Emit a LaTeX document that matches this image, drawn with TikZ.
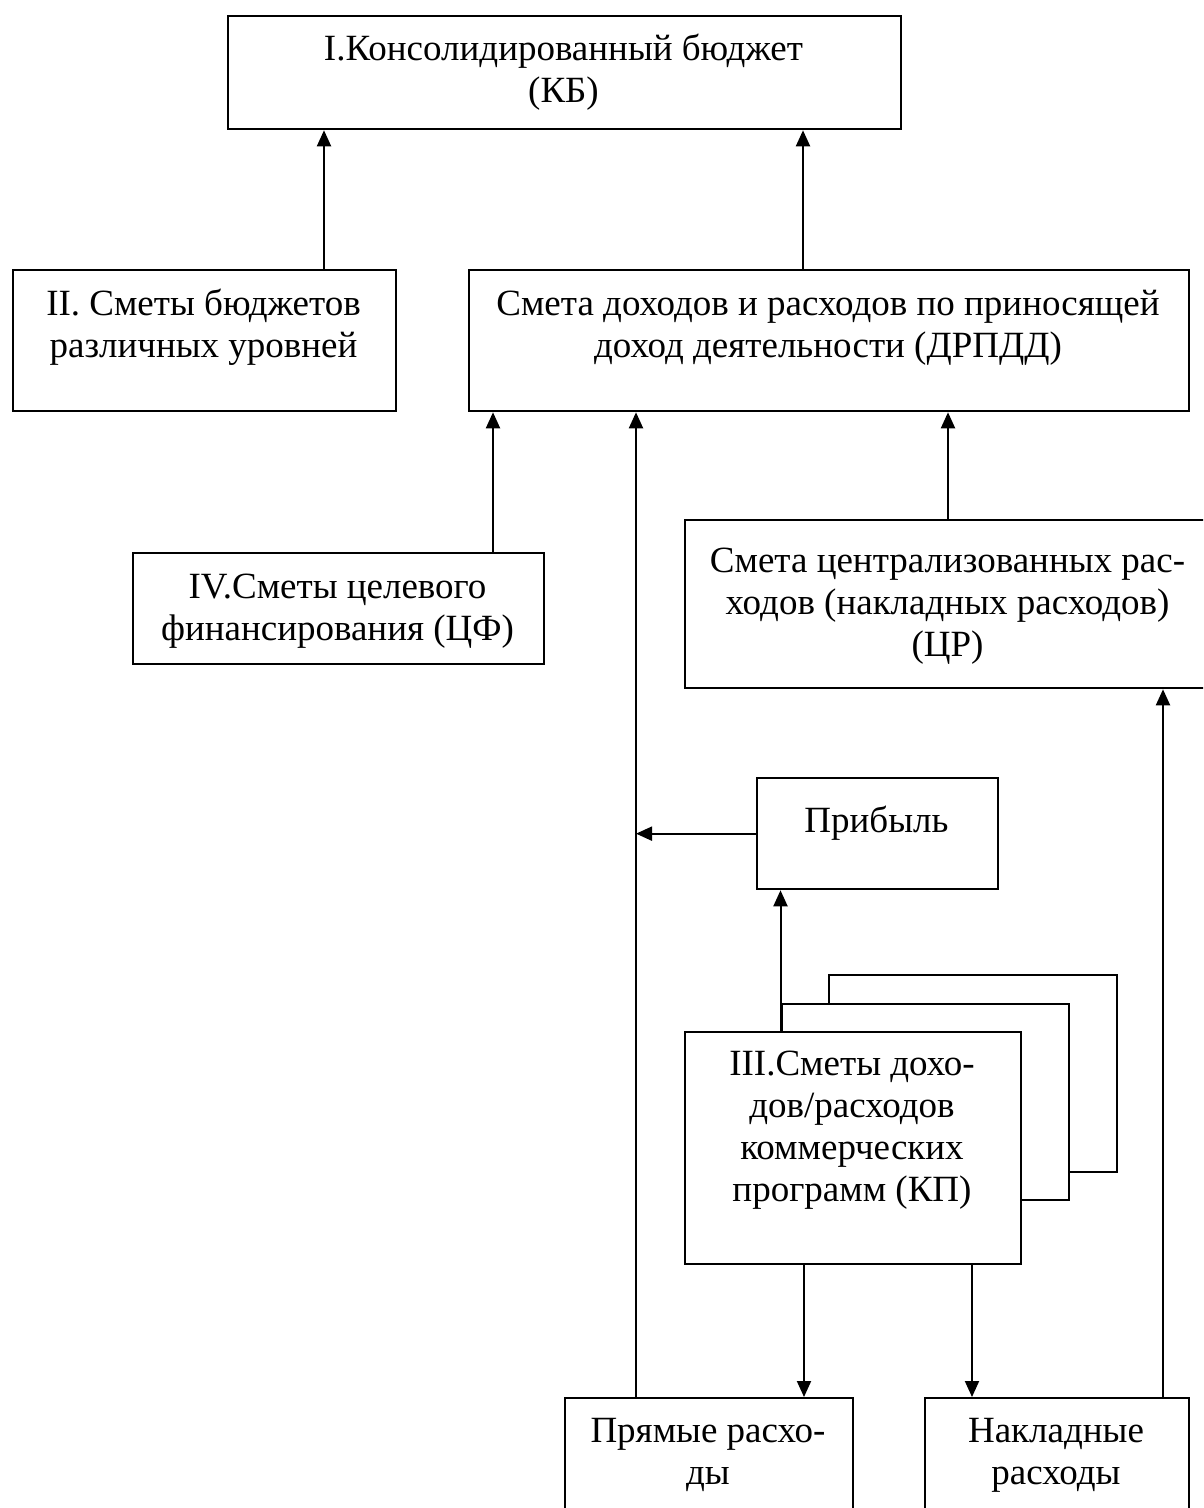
\documentclass[tikz,border=0pt]{standalone}
\usepackage{fontspec}
\setmainfont{Liberation Serif}
\usetikzlibrary{arrows.meta}
\tikzset{
  box/.style={draw, line width=2.3pt, fill=white, inner sep=0pt, anchor=north west},
  txt/.style={inner sep=0pt, anchor=north, align=center, yshift=29.4pt,
              font=\fontsize{37}{42}\selectfont},
  arr/.style={line width=2pt, -{Triangle[length=16pt,width=14pt]}},
}
\begin{document}
\begin{tikzpicture}[x=1pt,y=-1pt]
\useasboundingbox (0,0) rectangle (1203,1508);
\fill[white] (0,0) rectangle (1203,1508);
\clip (0,0) rectangle (1203,1508);

% boxes
\node[box, minimum width=673pt, minimum height=113pt] (KB) at (227,15) {};
\node[box, minimum width=383pt, minimum height=141pt] (SB) at (12,269) {};
\node[box, minimum width=720pt, minimum height=141pt] (DR) at (468,269) {};
\node[box, minimum width=411pt, minimum height=111pt] (CF) at (132,552) {};
\node[box, minimum width=528pt, minimum height=168pt] (CR) at (684,519) {};
\node[box, minimum width=241pt, minimum height=111pt] (PR) at (756,777) {};
\node[box, minimum width=288pt, minimum height=197pt] (KP3) at (828,974) {};
\node[box, minimum width=287.5pt, minimum height=196pt] (KP2) at (780.5,1003) {};
\node[box, minimum width=336.5pt, minimum height=232pt] (KP) at (683.5,1031) {};
\node[box, minimum width=288pt, minimum height=140pt] (PD) at (564,1397) {};
\node[box, minimum width=264pt, minimum height=140pt] (ND) at (924,1397) {};

% texts
\node[txt] (tKB) at (563.5,60) {\strut I.Консолидированный бюджет\\(КБ)};
\node[txt] (tSB) at (203.5,315) {\strut II. Сметы бюджетов\\различных уровней};
\node[txt] (tDR) at (828,315) {\strut Смета доходов и расходов по приносящей\\доход деятельности (ДРПДД)};
\node[txt] (tCF) at (337.5,598) {\strut IV.Сметы целевого\\финансирования (ЦФ)};
\node[txt] (tCR) at (947.5,572) {\strut Смета централизованных рас-\\ходов (накладных расходов)\\(ЦР)};
\node[txt] (tPR) at (876.5,832) {\strut Прибыль};
\node[txt] (tKP) at (852,1075) {\strut III.Сметы дохо-\\дов/расходов\\коммерческих\\программ (КП)};
\node[txt] (tPD) at (708,1442) {\strut Прямые расхо-\\ды};
\node[txt] (tND) at (1056,1442) {\strut Накладные\\расходы};

% x positions of connectors
\coordinate (xA) at (324,0);
\coordinate (xB) at (803,0);
\coordinate (xC) at (493,0);
\coordinate (xD) at (636,0);
\coordinate (xE) at (948,0);
\coordinate (xF) at (1163,0);
\coordinate (xG) at (780.5,0);
\coordinate (xH) at (804,0);
\coordinate (xI) at (972,0);

% connectors
\draw[arr] (SB.north -| xA) -- (KB.south -| xA);
\draw[arr] (DR.north -| xB) -- (KB.south -| xB);
\draw[arr] (CF.north -| xC) -- (DR.south -| xC);
\draw[arr] (PD.north -| xD) -- (DR.south -| xD);
\draw[arr] (CR.north -| xE) -- (DR.south -| xE);
\draw[arr] (ND.north -| xF) -- (CR.south -| xF);
\draw[arr] (PR.west) -- (PR.west -| xD);
\draw[arr] (KP.north -| xG) -- (PR.south -| xG);
\draw[arr] (KP.south -| xH) -- (PD.north -| xH);
\draw[arr] (KP.south -| xI) -- (ND.north -| xI);
\end{tikzpicture}
\end{document}
